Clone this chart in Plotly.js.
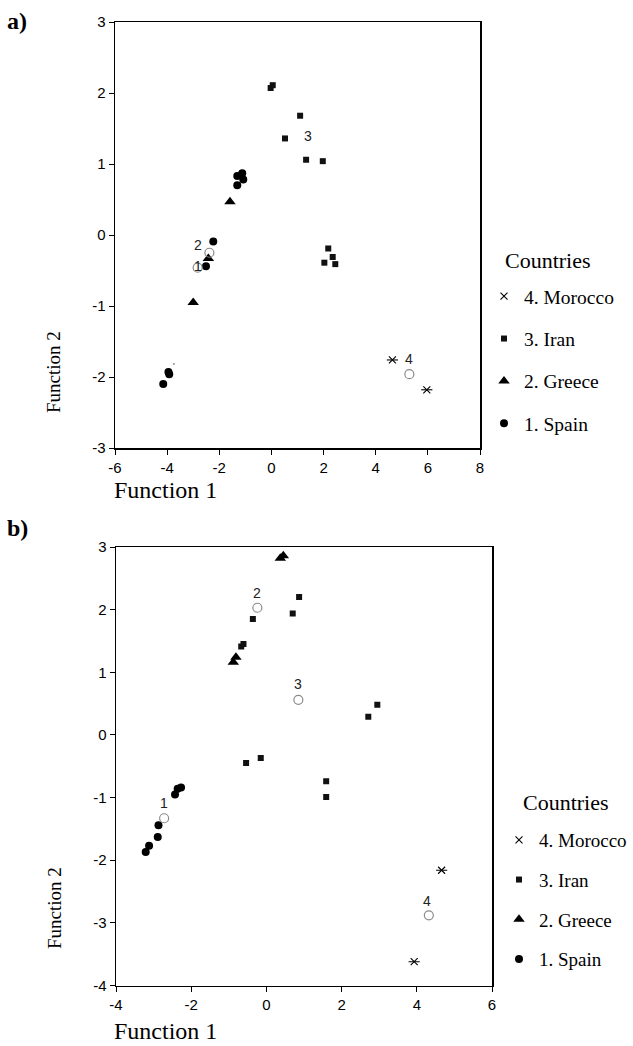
<!DOCTYPE html>
<html>
<head>
<meta charset="utf-8">
<script src="https://cdn.plot.ly/plotly-3.0.1.min.js"></script>
<style>html,body{margin:0;padding:0;background:#fff;}#chart{width:633px;height:1046px;}</style>
</head>
<body>
<div id="chart"></div>
<script>
// ---------- Panel a data ----------
const spainAx = [-1.31, -1.12, -1.08, -1.31, -2.23, -2.51, -3.95, -3.92, -4.15];
const spainAy = [0.83, 0.87, 0.78, 0.70, -0.09, -0.44, -1.93, -1.96, -2.10];
const greeceAx = [-1.59, -2.42, -3.00];
const greeceAy = [0.47, -0.33, -0.95];
const iranAx = [-0.03, 0.05, 1.10, 0.52, 1.33, 1.97, 2.18, 2.35, 2.03, 2.45];
const iranAy = [2.07, 2.11, 1.68, 1.36, 1.06, 1.04, -0.19, -0.31, -0.39, -0.41];
const moroccoAx = [4.64, 5.96];
const moroccoAy = [-1.76, -2.18];
const centroidAx = [-2.83, -2.38, 5.29];
const centroidAy = [-0.46, -0.25, -1.96];
const labelAtext = ["1", "2", "3", "4", "'"];
const labelAx = [-2.82, -2.80, 1.41, 5.28, -3.73];
const labelAy = [-0.44, -0.14, 1.39, -1.75, -1.85];

// ---------- Panel b data ----------
const spainBx = [-2.27, -2.36, -2.43, -2.87, -2.89, -3.12, -3.21];
const spainBy = [-0.84, -0.86, -0.95, -1.44, -1.63, -1.77, -1.87];
const greeceBx = [0.37, 0.45, -0.81, -0.88];
const greeceBy = [2.82, 2.86, 1.24, 1.16];
const iranBx = [0.87, 0.70, -0.36, -0.67, -0.61, 2.95, 2.71, -0.15, -0.54, 1.59, 1.59];
const iranBy = [2.20, 1.94, 1.85, 1.41, 1.45, 0.48, 0.29, -0.37, -0.45, -0.74, -0.99];
const moroccoBx = [4.66, 3.93];
const moroccoBy = [-2.16, -3.62];
const centroidBx = [-2.72, -0.24, 0.85, 4.32];
const centroidBy = [-1.33, 2.03, 0.56, -2.88];
const labelBtext = ["1", "2", "3", "4"];
const labelBx = [-2.72, -0.26, 0.85, 4.28];
const labelBy = [-1.08, 2.27, 0.82, -2.65];

// ---------- Legend / axis text ----------
const countryNames = ["4. Morocco", "3. Iran", "2. Greece", "1. Spain"];
const xTicksA = [-6, -4, -2, 0, 2, 4, 6, 8];
const yTicksA = [-3, -2, -1, 0, 1, 2, 3];
const xTicksB = [-4, -2, 0, 2, 4, 6];
const yTicksB = [-4, -3, -2, -1, 0, 1, 2, 3];

const W = 633, H = 1046;
const serif = "Liberation Serif, Times New Roman, serif";
const sans = "Liberation Sans, Arial, sans-serif";

function panelTraces(xa, ya, leg, d) {
  const common = {type: 'scatter', mode: 'markers', xaxis: xa, yaxis: ya, legend: leg, hoverinfo: 'skip'};
  return [
    Object.assign({}, common, {x: d.mx, y: d.my, name: countryNames[0], legendgroup: leg + 'm',
      marker: {symbol: 'x-thin-open', size: 7, color: 'black', line: {color: 'black', width: 1.1}}}),
    Object.assign({}, common, {x: d.mx, y: d.my, name: countryNames[0], legendgroup: leg + 'm', showlegend: false,
      marker: {symbol: 'line-ew-open', size: 8, color: 'black', line: {color: 'black', width: 1.1}}}),
    Object.assign({}, common, {x: d.ix, y: d.iy, name: countryNames[1], legendgroup: leg + 'i',
      marker: {symbol: 'square', size: 6, color: '#111', line: {color: '#111', width: 0}}}),
    Object.assign({}, common, {x: d.gx, y: d.gy, name: countryNames[2], legendgroup: leg + 'g',
      marker: {symbol: 'triangle-up', size: 10, color: 'black'}}),
    Object.assign({}, common, {x: d.sx, y: d.sy, name: countryNames[3], legendgroup: leg + 's',
      marker: {symbol: 'circle', size: 8, color: 'black'}}),
    Object.assign({}, common, {x: d.cx, y: d.cy, name: 'centroids', showlegend: false,
      marker: {symbol: 'circle-open', size: 9, color: '#8a8a8a', line: {color: '#8a8a8a', width: 1.2}}})
  ];
}

const traces = [].concat(
  panelTraces('x', 'y', 'legend', {mx: moroccoAx, my: moroccoAy, ix: iranAx, iy: iranAy, gx: greeceAx, gy: greeceAy, sx: spainAx, sy: spainAy, cx: centroidAx, cy: centroidAy}),
  panelTraces('x2', 'y2', 'legend2', {mx: moroccoBx, my: moroccoBy, ix: iranBx, iy: iranBy, gx: greeceBx, gy: greeceBy, sx: spainBx, sy: spainBy, cx: centroidBx, cy: centroidBy})
);

function axis(domain, range, ticks, anchor) {
  return {domain: domain, range: range, tickmode: 'array', tickvals: ticks, ticktext: ticks.map(String),
    ticks: 'outside', ticklen: 5, tickwidth: 1, tickcolor: 'black',
    showline: true, mirror: true, linecolor: 'black', linewidth: 1.5,
    showgrid: false, zeroline: false, anchor: anchor, fixedrange: true,
    tickfont: {family: sans, size: 15, color: 'black'}};
}

const annotations = [];
labelAtext.forEach((t, i) => annotations.push({xref: 'x', yref: 'y', x: labelAx[i], y: labelAy[i], text: t, showarrow: false,
  font: {family: sans, size: t === "'" ? 9 : 14, color: '#222'}}));
labelBtext.forEach((t, i) => annotations.push({xref: 'x2', yref: 'y2', x: labelBx[i], y: labelBy[i], text: t, showarrow: false,
  font: {family: sans, size: 14, color: '#222'}}));

function pa(text, px, py, opts) {
  return Object.assign({xref: 'paper', yref: 'paper', x: px / W, y: 1 - py / H, text: text, showarrow: false,
    xanchor: 'left', yanchor: 'middle', font: {family: serif, size: 22, color: 'black'}}, opts || {});
}
annotations.push(pa('<b>a)</b>', 5, 21, {font: {family: serif, size: 24, color: 'black'}}));
annotations.push(pa('<b>b)</b>', 5, 528, {font: {family: serif, size: 24, color: 'black'}}));
annotations.push(pa('Function 1', 112, 490, {font: {family: serif, size: 24, color: 'black'}}));
annotations.push(pa('Function 1', 112, 1031, {font: {family: serif, size: 24, color: 'black'}}));
annotations.push(pa('Function 2', 54, 372, {xanchor: 'center', textangle: -90, font: {family: serif, size: 19, color: 'black'}}));
annotations.push(pa('Function 2', 54, 908, {xanchor: 'center', textangle: -90, font: {family: serif, size: 19, color: 'black'}}));
annotations.push(pa('Countries', 503, 260, {font: {family: serif, size: 22, color: 'black'}}));
annotations.push(pa('Countries', 521, 802, {font: {family: serif, size: 22, color: 'black'}}));

const layout = {
  width: W, height: H, margin: {l: 0, r: 0, t: 0, b: 0},
  paper_bgcolor: 'white', plot_bgcolor: 'white', showlegend: true,
  xaxis: axis([115 / W, 480 / W], [-6, 8], xTicksA, 'y'),
  yaxis: axis([1 - 448 / H, 1 - 22 / H], [-3, 3], yTicksA, 'x'),
  xaxis2: axis([116 / W, 492 / W], [-4, 6], xTicksB, 'y2'),
  yaxis2: axis([1 - 985.5 / H, 1 - 547 / H], [-4, 3], yTicksB, 'x2'),
  legend: {x: 484 / W, y: 1 - 277 / H, xanchor: 'left', yanchor: 'top', traceorder: 'grouped', tracegroupgap: 14,
    font: {family: serif, size: 19.5, color: 'black'}, bgcolor: 'rgba(0,0,0,0)', borderwidth: 0},
  legend2: {x: 499 / W, y: 1 - 821 / H, xanchor: 'left', yanchor: 'top', traceorder: 'grouped', tracegroupgap: 12,
    font: {family: serif, size: 19, color: 'black'}, bgcolor: 'rgba(0,0,0,0)', borderwidth: 0},
  annotations: annotations
};

Plotly.newPlot('chart', traces, layout, {staticPlot: true, displayModeBar: false});
</script>
</body>
</html>
